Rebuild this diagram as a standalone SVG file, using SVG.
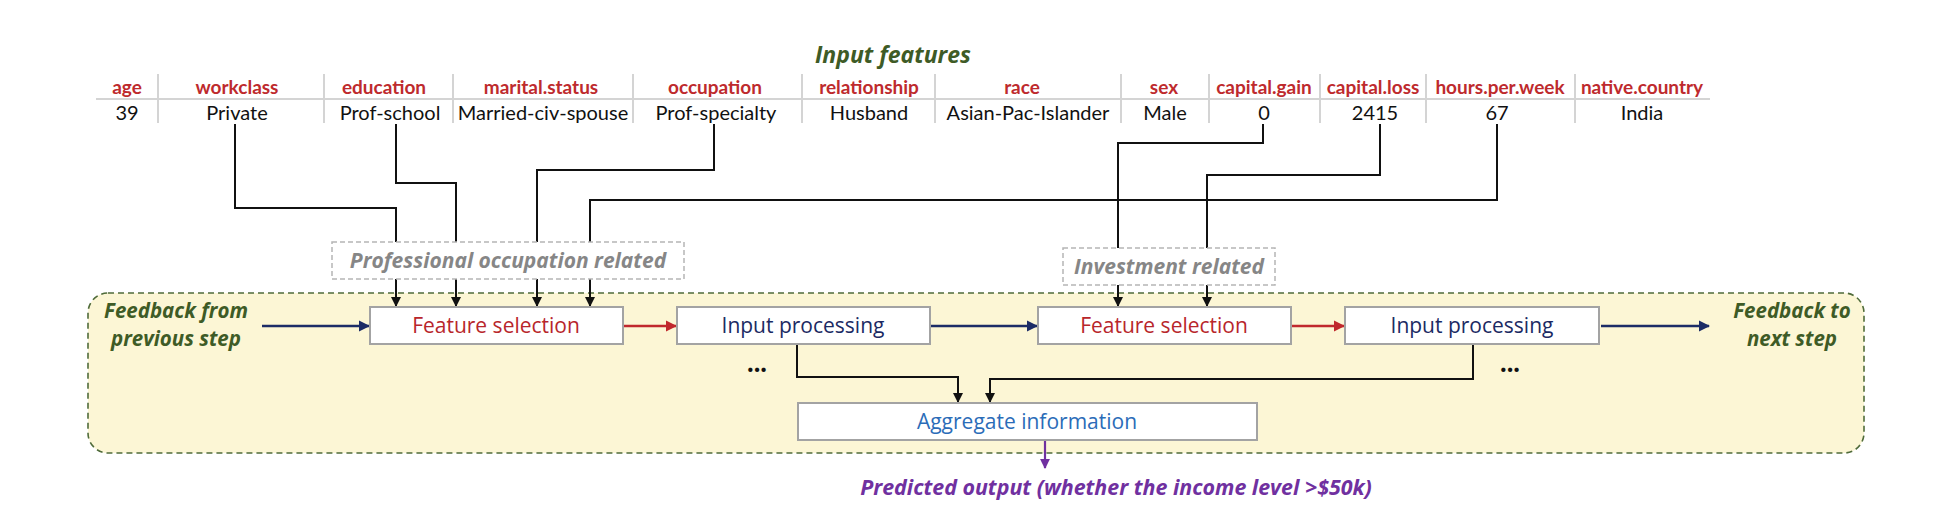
<svg xmlns="http://www.w3.org/2000/svg" width="1940" height="524" viewBox="0 0 1940 524">
<defs>
<style>
.hd{font-family:Lato,"Liberation Sans",sans-serif;font-weight:bold;font-size:19px;fill:#be2a2d;text-anchor:middle}
.dv{font-family:Lato,"Liberation Sans",sans-serif;font-size:20px;fill:#111;text-anchor:middle}
.sep{stroke:#d4d4d4;stroke-width:2}
.box{fill:#fff;stroke:#a3a3a3;stroke-width:2}
.bt{font-family:"Open Sans","Liberation Sans",sans-serif;font-size:21px;text-anchor:middle}
.it{font-family:"Open Sans","Liberation Sans",sans-serif;font-weight:bold;font-style:italic;text-anchor:middle}
.lbl{fill:#fff;stroke:#b5b5b5;stroke-width:1.5;stroke-dasharray:5 3}
.blk{fill:none;stroke:#111;stroke-width:2}
</style>
<marker id="ak" viewBox="0 0 10 10" refX="9" refY="5" markerWidth="5" markerHeight="5" orient="auto" markerUnits="strokeWidth"><path d="M0,0L10,5L0,10z" fill="#111"/></marker>
<marker id="an" viewBox="0 0 10 10" refX="9" refY="5" markerWidth="4.5" markerHeight="4.5" orient="auto" markerUnits="strokeWidth"><path d="M0,0L10,5L0,10z" fill="#1c2c66"/></marker>
<marker id="ar" viewBox="0 0 10 10" refX="9" refY="5" markerWidth="4.5" markerHeight="4.5" orient="auto" markerUnits="strokeWidth"><path d="M0,0L10,5L0,10z" fill="#c0282d"/></marker>
<marker id="ap" viewBox="0 0 10 10" refX="9" refY="5" markerWidth="4.5" markerHeight="4.5" orient="auto" markerUnits="strokeWidth"><path d="M0,0L10,5L0,10z" fill="#7030a0"/></marker>
</defs>
<rect width="1940" height="524" fill="#fff"/>

<g id="container">
<rect x="88" y="293" width="1776" height="160" rx="20" ry="20" fill="#fcf6d5" stroke="#4f6b3a" stroke-width="1.6" stroke-dasharray="6 4"/>
</g>

<g id="table">
<text x="893" y="63" class="it" style="font-size:23px;fill:#3e5b26">Input features</text>
<line x1="96" y1="99" x2="1710" y2="99" class="sep"/>
<g>
<line x1="158" y1="74" x2="158" y2="123" class="sep"/>
<line x1="324" y1="74" x2="324" y2="123" class="sep"/>
<line x1="453" y1="74" x2="453" y2="123" class="sep"/>
<line x1="633" y1="74" x2="633" y2="123" class="sep"/>
<line x1="802" y1="74" x2="802" y2="123" class="sep"/>
<line x1="935" y1="74" x2="935" y2="123" class="sep"/>
<line x1="1121" y1="74" x2="1121" y2="123" class="sep"/>
<line x1="1209" y1="74" x2="1209" y2="123" class="sep"/>
<line x1="1320" y1="74" x2="1320" y2="123" class="sep"/>
<line x1="1426" y1="74" x2="1426" y2="123" class="sep"/>
<line x1="1575" y1="74" x2="1575" y2="123" class="sep"/>
</g>
<text x="127" y="94" class="hd">age</text>
<text x="237" y="94" class="hd">workclass</text>
<text x="384" y="94" class="hd">education</text>
<text x="541" y="94" class="hd">marital.status</text>
<text x="715" y="94" class="hd">occupation</text>
<text x="869" y="94" class="hd">relationship</text>
<text x="1022" y="94" class="hd">race</text>
<text x="1164" y="94" class="hd">sex</text>
<text x="1264" y="94" class="hd">capital.gain</text>
<text x="1373" y="94" class="hd">capital.loss</text>
<text x="1500" y="94" class="hd">hours.per.week</text>
<text x="1642" y="94" class="hd">native.country</text>
<text x="127" y="120" class="dv">39</text>
<text x="237" y="120" class="dv">Private</text>
<text x="390" y="120" class="dv">Prof-school</text>
<text x="543" y="120" class="dv">Married-civ-spouse</text>
<text x="716" y="120" class="dv">Prof-specialty</text>
<text x="869" y="120" class="dv">Husband</text>
<text x="1028" y="120" class="dv">Asian-Pac-Islander</text>
<text x="1165" y="120" class="dv">Male</text>
<text x="1264" y="120" class="dv">0</text>
<text x="1375" y="120" class="dv">2415</text>
<text x="1497" y="120" class="dv">67</text>
<text x="1642" y="120" class="dv">India</text>
</g>

<g id="connectors">
<polyline points="235,124 235,208 396,208 396,306" class="blk" marker-end="url(#ak)"/>
<polyline points="396,124 396,183 456,183 456,306" class="blk" marker-end="url(#ak)"/>
<polyline points="714,124 714,170 537,170 537,306" class="blk" marker-end="url(#ak)"/>
<polyline points="1497,124 1497,200 590,200 590,306" class="blk" marker-end="url(#ak)"/>
<polyline points="1263,124 1263,143 1118,143 1118,306" class="blk" marker-end="url(#ak)"/>
<polyline points="1380,124 1380,175 1207,175 1207,306" class="blk" marker-end="url(#ak)"/>
<line x1="262" y1="326" x2="369" y2="326" stroke="#1c2c66" stroke-width="2.5" marker-end="url(#an)"/>
<line x1="624" y1="326" x2="676" y2="326" stroke="#c0282d" stroke-width="2.5" marker-end="url(#ar)"/>
<line x1="931" y1="326" x2="1037" y2="326" stroke="#1c2c66" stroke-width="2.5" marker-end="url(#an)"/>
<line x1="1292" y1="326" x2="1344" y2="326" stroke="#c0282d" stroke-width="2.5" marker-end="url(#ar)"/>
<line x1="1601" y1="326" x2="1709" y2="326" stroke="#1c2c66" stroke-width="2.5" marker-end="url(#an)"/>
<polyline points="797,345 797,377 958,377 958,402" class="blk" stroke-width="1.8" marker-end="url(#ak)"/>
<polyline points="1473,345 1473,379 990,379 990,402" class="blk" stroke-width="2.2" marker-end="url(#ak)"/>
<line x1="1045" y1="441" x2="1045" y2="468" stroke="#7030a0" stroke-width="2.2" marker-end="url(#ap)"/>
</g>

<g id="label-professional">
<rect x="332" y="242" width="352" height="37" class="lbl"/>
<text x="508" y="268" class="it" style="font-size:21px;fill:#868686">Professional occupation related</text>
</g>
<g id="label-investment">
<rect x="1063" y="248" width="212" height="37" class="lbl"/>
<text x="1169" y="274" class="it" style="font-size:21px;fill:#868686">Investment related</text>
</g>

<g id="feature-selection-1">
<rect x="370" y="307" width="253" height="37" class="box"/>
<text x="496" y="333" class="bt" fill="#b8262b">Feature selection</text>
</g>
<g id="input-processing-1">
<rect x="677" y="307" width="253" height="37" class="box"/>
<text x="803" y="333" class="bt" fill="#1b2a63">Input processing</text>
</g>
<g id="feature-selection-2">
<rect x="1038" y="307" width="253" height="37" class="box"/>
<text x="1164" y="333" class="bt" fill="#b8262b">Feature selection</text>
</g>
<g id="input-processing-2">
<rect x="1345" y="307" width="254" height="37" class="box"/>
<text x="1472" y="333" class="bt" fill="#1b2a63">Input processing</text>
</g>
<g id="aggregate">
<rect x="798" y="403" width="459" height="37" class="box"/>
<text x="1027" y="429" class="bt" fill="#2b6cb8">Aggregate information</text>
</g>

<g id="feedback-from">
<text x="176" y="318" class="it" style="font-size:20.5px;fill:#3e5b26">Feedback from</text>
<text x="176" y="346" class="it" style="font-size:20.5px;fill:#3e5b26">previous step</text>
</g>
<g id="feedback-to">
<text x="1792" y="318" class="it" style="font-size:20.5px;fill:#3e5b26">Feedback to</text>
<text x="1792" y="346" class="it" style="font-size:20.5px;fill:#3e5b26">next step</text>
</g>
<g id="ellipsis">
<text x="757" y="372" style="font-family:Lato,sans-serif;font-weight:bold;font-size:28px;fill:#111" text-anchor="middle">...</text>
<text x="1510" y="372" style="font-family:Lato,sans-serif;font-weight:bold;font-size:28px;fill:#111" text-anchor="middle">...</text>
</g>
<g id="output">
<text x="1116" y="495" class="it" style="font-size:21.4px;fill:#7030a0">Predicted output (whether the income level &gt;$50k)</text>
</g>
</svg>
